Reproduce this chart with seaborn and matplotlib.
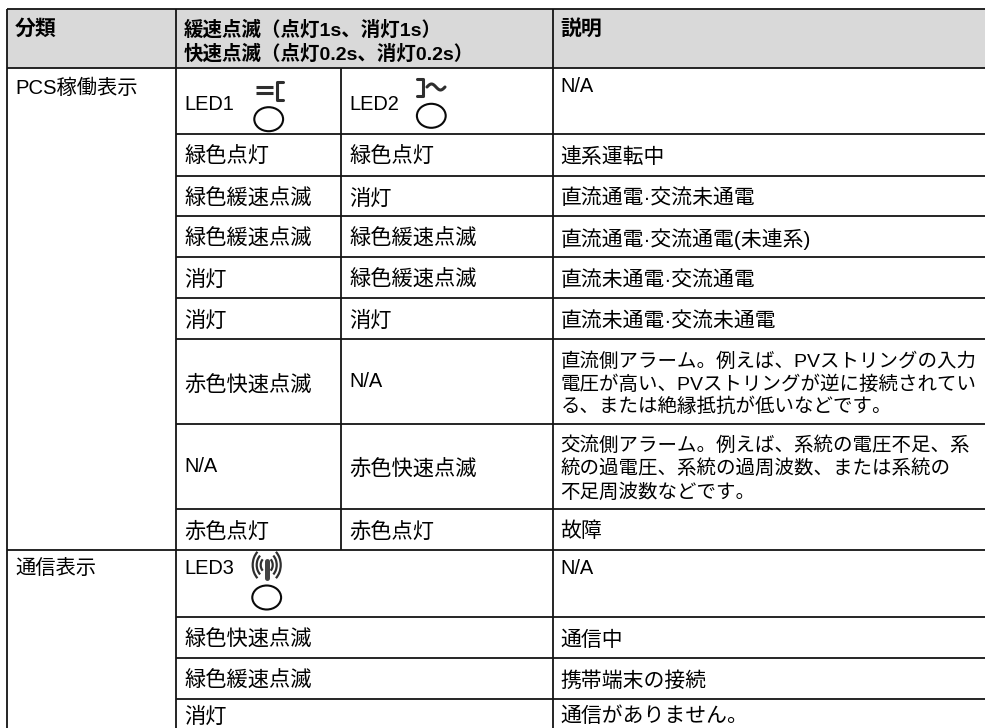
import numpy as np
import pandas as pd
import matplotlib
matplotlib.use('Agg')
import matplotlib.pyplot as plt
from matplotlib.patches import Arc
from matplotlib.path import Path
from matplotlib.transforms import Affine2D
import seaborn as sns

# table content
header = ['分類', '緩速点滅（点灯1s、消灯1s）\n快速点滅（点灯0.2s、消灯0.2s）', '説明']
groups = ['PCS稼働表示', '通信表示']
led_labels = ['LED1', 'LED2', 'LED3']
pcs_led1 = ['緑色点灯', '緑色緩速点滅', '緑色緩速点滅', '消灯', '消灯', '赤色快速点滅', 'N/A', '赤色点灯']
pcs_led2 = ['緑色点灯', '消灯', '緑色緩速点滅', '緑色緩速点滅', '消灯', 'N/A', '赤色快速点滅', '赤色点灯']
pcs_desc = ['連系運転中', '直流通電·交流未通電', '直流通電·交流通電(未連系)', '直流未通電·交流通電',
            '直流未通電·交流未通電',
            '直流側アラーム。例えば、PVストリングの入力\n電圧が高い、PVストリングが逆に接続されてい\nる、または絶縁抵抗が低いなどです。',
            '交流側アラーム。例えば、系統の電圧不足、系\n統の過電圧、系統の過周波数、または系統の\n不足周波数などです。',
            '故障']
comm_led3 = ['緑色快速点滅', '緑色緩速点滅', '消灯']
comm_desc = ['通信中', '携帯端末の接続', '通信がありません。']
na_text = 'N/A'

sns.set_theme(style='white')
plt.rcParams['font.family'] = ['Liberation Sans', 'Noto Sans CJK JP']

# everything is laid out in image pixels
fig = plt.figure(figsize=(9.85, 7.28), dpi=100)
ax = fig.add_axes([0, 0, 1, 1])
ax.set_xlim(0, 985)
ax.set_ylim(728, 0)
ax.axis('off')

left, col1, col2, col3, right = 6.5, 176, 341, 552.5, 985
top, head_bottom = 9, 68
pcs_edges = [134, 175.5, 216.3, 257, 297.7, 339.3, 424.3, 508.6, 549.8]
comm_edges = [617, 658, 699]
bottom = 728
ink = '#141414'
lw = 1.3

ax.fill_between([left, right], top, head_bottom, color='#d9d9d9', lw=0, zorder=0)

for y in [top, head_bottom, 549.8]:
    ax.hlines(y, left, right, color=ink, lw=lw)
for y in pcs_edges[:-1] + comm_edges:
    ax.hlines(y, col1, right, color=ink, lw=lw)
for x in [left, col1, col3]:
    ax.vlines(x, top, bottom, color=ink, lw=lw)
ax.vlines(col2, head_bottom, 549.8, color=ink, lw=lw)

body = dict(color='black', va='center', ha='left')
x0, x1, x2, x3 = 15, 184, 349, 560.5
cjk_shift = 2.5

# header
ax.text(x0, 29, header[0], fontsize=15, fontweight='bold', **body)
ax.text(x1, 42, header[1], fontsize=14, fontweight='bold', linespacing=1.27, **body)
ax.text(x3, 29, header[2], fontsize=15, fontweight='bold', **body)

# first column groups
ax.text(x0, 88, groups[0], fontsize=14.6, **body)
ax.text(x0, 568, groups[1], fontsize=14.6, **body)

# LED rows
ax.text(x1, 105, led_labels[0], fontsize=14.4, **body)
ax.text(x2, 104, led_labels[1], fontsize=14.4, **body)
ax.text(x1, 568, led_labels[2], fontsize=14.4, **body)
ax.text(x3, 87, na_text, fontsize=14.4, **body)
ax.text(x3, 568, na_text, fontsize=14.4, **body)

# PCS rows
for i in range(len(pcs_desc)):
    mid = (pcs_edges[i] + pcs_edges[i + 1]) / 2
    for x, label in [(x1, pcs_led1[i]), (x2, pcs_led2[i])]:
        if label == na_text:
            ax.text(x, mid, label, fontsize=14.4, **body)
        else:
            ax.text(x, mid + cjk_shift, label, fontsize=15.3, **body)
    multi = '\n' in pcs_desc[i]
    ax.text(x3, mid + cjk_shift, pcs_desc[i], fontsize=14 if multi else 15,
            linespacing=1.3, **body)

# communication rows
comm_mids = [(617 + 658) / 2, (658 + 699) / 2, (699 + 729) / 2]
for i in range(len(comm_desc)):
    ax.text(x1, comm_mids[i] + cjk_shift, comm_led3[i], fontsize=15.3, **body)
    ax.text(x3, comm_mids[i] + cjk_shift, comm_desc[i], fontsize=15, **body)

# LED lamps, drawn through seaborn with a flattened circle marker
lamp = Path.unit_circle().transformed(Affine2D().scale(1, 25 / 30))
lamps = pd.DataFrame({'x': [268.7, 431.3, 266.7], 'y': [119.2, 115.8, 597.5]})
sns.scatterplot(data=lamps, x='x', y='y', ax=ax, marker=lamp, s=430,
                facecolor='none', edgecolor='#0a0a0a', linewidth=1.5, legend=False)
ax.axis('off')

icon = '#2e2e2e'
# DC symbol on LED1
ax.hlines([86.7, 92.7], 255.5, 272.5, color=icon, lw=2.2)
ax.plot([283, 277, 277, 283], [82, 82, 99.5, 99.5], color=icon, lw=2.2)

# AC symbol on LED2
ax.plot([417, 423, 423, 417], [78.5, 78.5, 95.5, 95.5], color=icon, lw=2.2)
wave_x = np.linspace(427, 445, 40)
ax.plot(wave_x, 87 - 3 * np.sin((wave_x - 427) / 18 * 2 * np.pi), color=icon, lw=2.2)

# antenna symbol on LED3
ax.plot([266.7, 266.7], [561, 578], color='#444444', lw=3.6, solid_capstyle='round')
for w in [12, 20, 28]:
    ax.add_patch(Arc((266.7, 565), w, w * 1.25, theta1=125, theta2=235, color=icon, lw=1.6))
    ax.add_patch(Arc((266.7, 565), w, w * 1.25, theta1=-55, theta2=55, color=icon, lw=1.6))

sns.despine(ax=ax, left=True, bottom=True)
fig.savefig('out.png', dpi=100)
